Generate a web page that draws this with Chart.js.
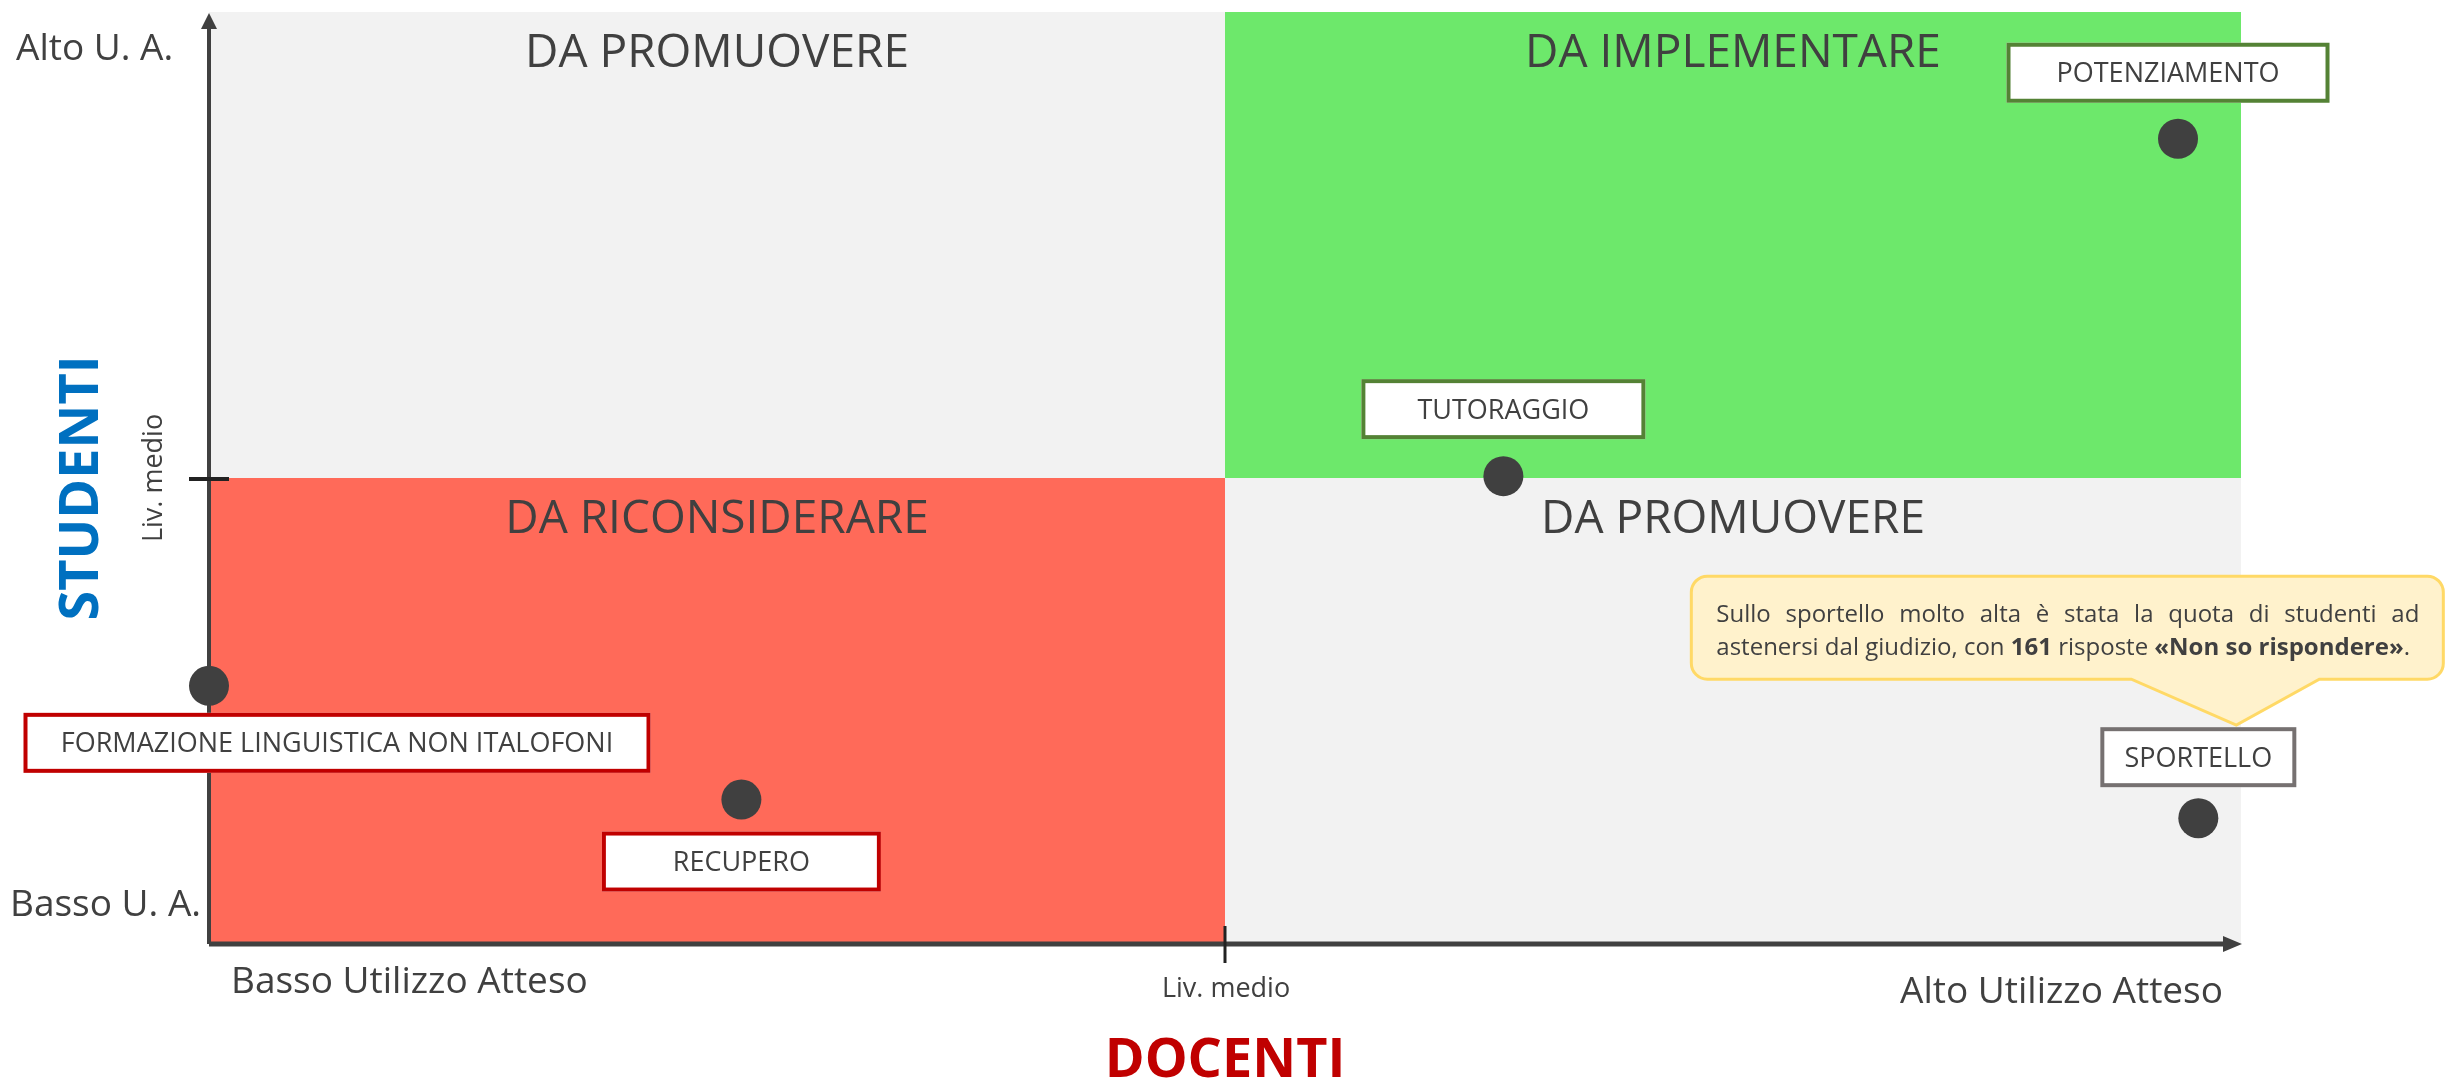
<!DOCTYPE html>
<html lang="it">
<head>
<meta charset="UTF-8">
<title>Matrice utilizzo atteso</title>
<script src="https://cdn.jsdelivr.net/npm/chart.js"></script>
<style>
    body { margin: 0; padding: 0; background: #fff; }
    #wrap { width: 2446px; height: 1089px; position: relative; }
</style>
</head>
<body>
<div id="wrap"><canvas id="matrice"></canvas></div>
<script>
// Dati
const attivita = ['POTENZIAMENTO', 'TUTORAGGIO', 'SPORTELLO', 'RECUPERO', 'FORMAZIONE LINGUISTICA NON ITALOFONI'];
const docenti = [96.9, 63.7, 97.9, 26.2, 0];      // asse x: utilizzo atteso docenti
const studenti = [86.4, 50.2, 13.5, 15.5, 27.7];  // asse y: utilizzo atteso studenti
const quadranti = ['DA PROMUOVERE', 'DA IMPLEMENTARE', 'DA RICONSIDERARE', 'DA PROMUOVERE'];
const xTickLabels = ['Basso Utilizzo Atteso', 'Liv. medio', 'Alto Utilizzo Atteso'];
const yTickLabels = ['Basso U. A.', 'Liv. medio', 'Alto U. A.'];
const nota1 = 'Sullo sportello molto alta è stata la quota di studenti ad';
const nota2 = [['astenersi dal giudizio, con ', false], ['161', true], [' risposte ', false], ['«Non so rispondere»', true], ['.', false]];

// Stili
const FONT = '"Open Sans", sans-serif';
const TESTO = '#404040';
const coloriQuadranti = ['#f2f2f2', '#6de86b', '#ff6a59', '#f2f2f2'];
const coloriBordo = ['#548235', '#548235', '#767171', '#c00000', '#c00000'];
const larghezzeBox = [323, 284, 196, 279, 627];
const offsetBox = [[-10, -66], [0, -67], [0, -61], [0, 62], [128, 57]];

function font(size, bold) {
    return (bold ? 'bold ' : '') + size + 'px ' + FONT;
}

// testo centrato sulle maiuscole
function capText(ctx, txt, x, cy, size, opts) {
    opts = opts || {};
    ctx.font = font(size, opts.bold);
    ctx.fillStyle = opts.color || TESTO;
    ctx.textAlign = opts.align || 'center';
    ctx.textBaseline = 'alphabetic';
    ctx.fillText(txt, x, cy + size * 0.357);
}

const matricePlugin = {
    id: 'matrice',
    beforeDatasetsDraw(chart) {
        const ctx = chart.ctx;
        const x = chart.scales.x, y = chart.scales.y;
        const left = x.getPixelForValue(0), right = x.getPixelForValue(100);
        const top = y.getPixelForValue(100), bottom = y.getPixelForValue(0);
        const mx = x.getPixelForValue(50), my = y.getPixelForValue(50);
        ctx.save();

        // quadranti
        const rects = [[left, top, mx, my], [mx, top, right, my], [left, my, mx, bottom], [mx, my, right, bottom]];
        rects.forEach((r, i) => {
            ctx.fillStyle = coloriQuadranti[i];
            ctx.fillRect(r[0], r[1], r[2] - r[0], r[3] - r[1]);
            capText(ctx, quadranti[i], (r[0] + r[2]) / 2, r[1] + 39, 46);
        });

        // assi
        ctx.strokeStyle = TESTO;
        ctx.fillStyle = TESTO;
        ctx.lineWidth = 4;
        ctx.beginPath();
        ctx.moveTo(left, bottom);
        ctx.lineTo(left, top + 14);
        ctx.stroke();
        ctx.beginPath();
        ctx.moveTo(left - 8, top + 17);
        ctx.lineTo(left, top + 1);
        ctx.lineTo(left + 8, top + 17);
        ctx.closePath();
        ctx.fill();

        ctx.lineWidth = 5;
        ctx.beginPath();
        ctx.moveTo(left, bottom);
        ctx.lineTo(right - 14, bottom);
        ctx.stroke();
        ctx.beginPath();
        ctx.moveTo(right - 18, bottom - 8);
        ctx.lineTo(right + 1, bottom);
        ctx.lineTo(right - 18, bottom + 8);
        ctx.closePath();
        ctx.fill();

        // tacche liv. medio
        ctx.strokeStyle = '#222';
        ctx.lineWidth = 3;
        ctx.beginPath();
        ctx.moveTo(mx, bottom - 18);
        ctx.lineTo(mx, bottom + 19);
        ctx.stroke();
        ctx.lineWidth = 4;
        ctx.beginPath();
        ctx.moveTo(left - 20, my + 1);
        ctx.lineTo(left + 20, my + 1);
        ctx.stroke();

        // etichette asse x
        capText(ctx, xTickLabels[0], left + 22, bottom + 36, 37, {align: 'left'});
        capText(ctx, xTickLabels[1], mx + 1, bottom + 43, 27);
        capText(ctx, xTickLabels[2], right - 18, bottom + 46, 37, {align: 'right'});

        // etichette asse y
        capText(ctx, yTickLabels[2], 16, top + 35, 37, {align: 'left'});
        capText(ctx, yTickLabels[0], 10, bottom - 41, 37, {align: 'left'});
        ctx.save();
        ctx.translate(left - 47, my);
        ctx.rotate(-Math.PI / 2);
        ctx.font = font(27);
        ctx.fillStyle = TESTO;
        ctx.textAlign = 'center';
        ctx.textBaseline = 'alphabetic';
        ctx.fillText(yTickLabels[1], 0, 0);
        ctx.restore();

        // titoli assi
        ctx.save();
        ctx.translate(98, my + 10);
        ctx.rotate(-Math.PI / 2);
        ctx.font = font(54, true);
        ctx.fillStyle = '#0070c0';
        ctx.textAlign = 'center';
        ctx.textBaseline = 'alphabetic';
        ctx.fillText('STUDENTI', 0, 0);
        ctx.restore();
        capText(ctx, 'DOCENTI', mx, bottom + 114, 54, {bold: true, color: '#c00000'});

        ctx.restore();
    },
    afterDatasetsDraw(chart) {
        const ctx = chart.ctx;
        const meta = chart.getDatasetMeta(0);
        ctx.save();

        // box etichette
        meta.data.forEach((pt, i) => {
            const w = larghezzeBox[i], h = 60;
            const cx = pt.x + offsetBox[i][0], cy = pt.y + offsetBox[i][1];
            ctx.fillStyle = '#fff';
            ctx.fillRect(cx - w / 2, cy - h / 2, w, h);
            ctx.strokeStyle = coloriBordo[i];
            ctx.lineWidth = 4;
            ctx.strokeRect(cx - w / 2 + 2, cy - h / 2 + 2, w - 4, h - 4);
            capText(ctx, attivita[i], cx, cy, 27);
        });

        // fumetto sullo sportello
        const sp = meta.data[2];
        const L = sp.x - 507, R = sp.x + 245, T = sp.y - 242, B = sp.y - 139, r = 16;
        ctx.beginPath();
        ctx.moveTo(L + r, T);
        ctx.lineTo(R - r, T);
        ctx.arcTo(R, T, R, T + r, r);
        ctx.lineTo(R, B - r);
        ctx.arcTo(R, B, R - r, B, r);
        ctx.lineTo(sp.x + 121, B);
        ctx.lineTo(sp.x + 38, sp.y - 93);
        ctx.lineTo(sp.x - 67, B);
        ctx.lineTo(L + r, B);
        ctx.arcTo(L, B, L, B - r, r);
        ctx.lineTo(L, T + r);
        ctx.arcTo(L, T, L + r, T, r);
        ctx.closePath();
        ctx.fillStyle = '#fff2cc';
        ctx.fill();
        ctx.strokeStyle = '#ffd966';
        ctx.lineWidth = 3;
        ctx.stroke();

        ctx.fillStyle = TESTO;
        ctx.textAlign = 'left';
        ctx.textBaseline = 'alphabetic';
        ctx.font = font(24);
        // prima riga giustificata
        const parole = nota1.split(' ');
        const x0 = L + 25, x1 = R - 24;
        const larghezze = parole.map(p => ctx.measureText(p).width);
        const tot = larghezze.reduce((a, b) => a + b, 0);
        const gap = (x1 - x0 - tot) / (parole.length - 1);
        let px = x0;
        parole.forEach((p, i) => {
            ctx.fillText(p, px, T + 46);
            px += larghezze[i] + gap;
        });
        // seconda riga con grassetti
        px = x0;
        nota2.forEach(([t, b]) => {
            ctx.font = font(24, b);
            ctx.fillText(t, px, T + 79);
            px += ctx.measureText(t).width;
        });

        ctx.restore();
    }
};

new Chart(document.getElementById('matrice'), {
    type: 'scatter',
    data: {
        datasets: [{
            label: 'Attività',
            data: attivita.map((a, i) => ({x: docenti[i], y: studenti[i]})),
            pointRadius: 20,
            pointHoverRadius: 20,
            backgroundColor: '#404040',
            borderWidth: 0,
            clip: false
        }]
    },
    options: {
        responsive: true,
        maintainAspectRatio: false,
        animation: false,
        events: [],
        layout: { autoPadding: false, padding: { left: 209, right: 205, top: 12, bottom: 145 } },
        scales: {
            x: { type: 'linear', min: 0, max: 100, display: false },
            y: { type: 'linear', min: 0, max: 100, display: false }
        },
        plugins: { legend: { display: false }, tooltip: { enabled: false } }
    },
    plugins: [matricePlugin]
});
</script>
</body>
</html>
